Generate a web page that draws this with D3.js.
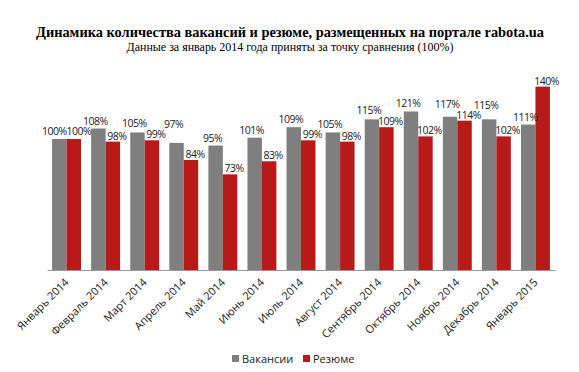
<!DOCTYPE html>
<html>
<head>
<meta charset="utf-8">
<script src="https://cdn.jsdelivr.net/npm/d3@7"></script>
<style>
	body { margin: 0; background: #fff; }
</style>
</head>
<body>
<div id="chart"></div>
<script>
var months = ['Январь 2014', 'Февраль 2014', 'Март 2014', 'Апрель 2014', 'Май 2014', 'Июнь 2014', 'Июль 2014',
	'Август 2014', 'Сентябрь 2014', 'Октябрь 2014', 'Ноябрь 2014', 'Декабрь 2014', 'Январь 2015'];
var vacancies = [100, 108, 105, 97, 95, 101, 109, 105, 115, 121, 117, 115, 111];
var resumes = [100, 98, 99, 84, 73, 83, 99, 98, 109, 102, 114, 102, 140];
var seriesNames = ['Вакансии', 'Резюме'];
var seriesColors = ['#7f7f7f', '#b81a1a'];

var width = 579, height = 372;
var svg = d3.select('#chart').append('svg')
	.attr('width', width)
	.attr('height', height)
	.style('font-family', "'Open Sans', sans-serif");

// titles
svg.append('text')
	.attr('x', 290)
	.attr('y', 37)
	.attr('text-anchor', 'middle')
	.attr('textLength', 508)
	.attr('lengthAdjust', 'spacingAndGlyphs')
	.style('font-family', "'Liberation Serif', serif")
	.style('font-weight', 'bold')
	.style('font-size', '14.5px')
	.text('Динамика количества вакансий и резюме, размещенных на портале rabota.ua');

svg.append('text')
	.attr('x', 290)
	.attr('y', 51)
	.attr('text-anchor', 'middle')
	.attr('textLength', 327)
	.attr('lengthAdjust', 'spacingAndGlyphs')
	.style('font-family', "'Liberation Serif', serif")
	.style('font-size', '12px')
	.text('Данные за январь 2014 года приняты за точку сравнения (100%)');

var x0 = d3.scaleBand()
	.domain(months)
	.range([47, 555])
	.paddingInner(0.26)
	.paddingOuter(0.13);

var x1 = d3.scaleBand()
	.domain([0, 1])
	.range([0, x0.bandwidth()]);

var y = d3.scaleLinear()
	.domain([0, 160])
	.range([270, 60.4]);

var rows = months.map(function(m, i) {
	return { month: m, values: [vacancies[i], resumes[i]] };
});

var groups = svg.selectAll('.group')
	.data(rows)
	.enter()
	.append('g')
	.attr('class', 'group')
	.attr('transform', function(d) { return 'translate(' + x0(d.month) + ',0)'; });

groups.selectAll('rect')
	.data(function(d) { return d.values; })
	.enter()
	.append('rect')
	.attr('x', function(d, i) { return x1(i); })
	.attr('width', x1.bandwidth())
	.attr('y', function(d) { return y(d); })
	.attr('height', function(d) { return y(0) - y(d); })
	.attr('fill', function(d, i) { return seriesColors[i]; });

// value labels: red ones sit on the bar, grey ones get lifted when they
// would collide with a neighbouring red label (as done by hand in the original)
var labels = [];
rows.forEach(function(row, k) {
	var redY = y(row.values[1]) - 2;
	var greyY = y(row.values[0]) - 4;
	var same = row.values[0] == row.values[1];
	if (row.values[0] > row.values[1]) greyY = Math.min(greyY, redY - 11);
	if (k > 0) {
		var prevRedY = y(rows[k - 1].values[1]) - 2;
		if (Math.abs(greyY - prevRedY) < 10) greyY = Math.min(greyY, prevRedY - 10);
	}
	if (same) redY = greyY;
	labels.push({ v: row.values[0], x: x0(row.month) + x1(0) + x1.bandwidth() / 2 - (same ? 5 : 3), y: greyY });
	labels.push({ v: row.values[1], x: x0(row.month) + x1(1) + x1.bandwidth() / 2 + (same ? 5 : 4), y: redY });
});

svg.selectAll('.lbl')
	.data(labels)
	.enter()
	.append('text')
	.attr('class', 'lbl')
	.attr('x', function(d) { return d.x; })
	.attr('y', function(d) { return d.y; })
	.attr('text-anchor', 'middle')
	.style('font-size', '10.5px')
	.style('letter-spacing', '-0.5px')
	.style('fill', '#222')
	.text(function(d) { return d.v + '%'; });

// axis
var xAxis = svg.append('g')
	.attr('transform', 'translate(0,' + y(0) + ')')
	.call(d3.axisBottom(x0).tickSize(0).tickSizeOuter(0).tickPadding(0));

xAxis.select('.domain').attr('stroke', '#999');
xAxis.selectAll('text')
	.attr('text-anchor', 'end')
	.attr('dy', 0)
	.attr('transform', 'translate(3,13) rotate(-45)')
	.style('font-family', "'Open Sans', sans-serif")
	.style('font-size', '11px')
	.style('fill', '#222');

// legend
var legend = svg.append('g')
	.attr('transform', 'translate(232,358.5)');

var items = legend.selectAll('.item')
	.data(seriesNames)
	.enter()
	.append('g')
	.attr('class', 'item')
	.attr('transform', function(d, i) { return 'translate(' + (i * 71) + ',0)'; });

items.append('rect')
	.attr('x', 0)
	.attr('y', -3.5)
	.attr('width', 7)
	.attr('height', 7)
	.attr('fill', function(d, i) { return seriesColors[i]; });

items.append('text')
	.attr('x', 10)
	.attr('y', 4)
	.style('font-size', '11px')
	.style('fill', '#222')
	.text(function(d) { return d; });
</script>
</body>
</html>
